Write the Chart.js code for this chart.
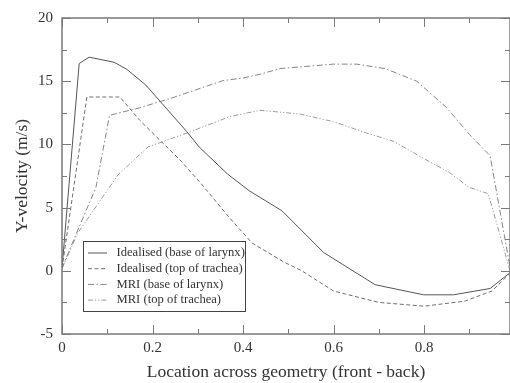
<!DOCTYPE html>
<html>
<head>
<meta charset="utf-8">
<script src="https://cdn.jsdelivr.net/npm/chart.js@4/dist/chart.umd.min.js"></script>
<style>
html,body{margin:0;padding:0;background:#fff;}
#wrap{width:510px;height:383px;position:relative;}
</style>
</head>
<body>
<div id="wrap"><canvas id="c" width="510" height="383"></canvas></div>
<script>
// ---- data ----
const seriesLabels = ["Idealised (base of larynx)", "Idealised (top of trachea)", "MRI (base of larynx)", "MRI (top of trachea)"];

const xIdealBase = [0, 0.038, 0.06, 0.115, 0.143, 0.185, 0.217, 0.276, 0.303, 0.366, 0.415, 0.486, 0.578, 0.692, 0.799, 0.865, 0.946, 0.99];
const yIdealBase = [0.2, 16.4, 16.9, 16.5, 15.95, 14.7, 13.4, 11.0, 9.8, 7.65, 6.3, 4.75, 1.45, -1.1, -1.9, -1.9, -1.4, -0.15];

const xIdealTop = [0, 0.055, 0.128, 0.172, 0.22, 0.26, 0.305, 0.37, 0.42, 0.49, 0.53, 0.6, 0.7, 0.8, 0.89, 0.95, 0.99];
const yIdealTop = [0.2, 13.75, 13.75, 11.9, 10.2, 8.8, 7.0, 4.2, 2.2, 0.7, 0.0, -1.6, -2.5, -2.8, -2.4, -1.6, -0.2];

const xMriBase = [0, 0.03, 0.075, 0.105, 0.172, 0.245, 0.356, 0.40, 0.4375, 0.482, 0.6, 0.651, 0.714, 0.784, 0.85, 0.90, 0.946, 0.99];
const yMriBase = [0.2, 2.8, 6.6, 12.3, 12.9, 13.7, 15.05, 15.25, 15.55, 16.0, 16.35, 16.35, 16.0, 15.0, 12.9, 10.8, 9.1, 0.3];

const xMriTop = [0, 0.035, 0.124, 0.19, 0.276, 0.371, 0.4375, 0.526, 0.6, 0.673, 0.732, 0.799, 0.857, 0.90, 0.942, 0.99];
const yMriTop = [0.2, 3.0, 7.6, 9.8, 10.9, 12.2, 12.7, 12.4, 11.8, 10.9, 10.25, 8.9, 7.75, 6.6, 6.1, 0.0];

const xMajorTicks = [0, 0.2, 0.4, 0.6, 0.8];
const xMinorTicks = [0.1, 0.3, 0.5, 0.7, 0.9];
const yMajorTicks = [-5, 0, 5, 10, 15, 20];
const yMinorTicks = [-2.5, 2.5, 7.5, 12.5, 17.5];

const xTitle = "Location across geometry (front - back)";
const yTitle = "Y-velocity (m/s)";

// ---- chart ----
const SERIF = "'Liberation Serif', 'DejaVu Serif', serif";
const toPts = (xs, ys) => xs.map((x, i) => ({x: x, y: ys[i]}));

const styles = [
  {color: '#555555', dash: []},
  {color: '#6e6e6e', dash: [4, 2.5]},
  {color: '#858585', dash: [6, 2.5, 1.5, 2.5]},
  {color: '#9a9a9a', dash: [5, 2, 1.2, 2, 1.2, 2]}
];
const seriesData = [
  toPts(xIdealBase, yIdealBase),
  toPts(xIdealTop, yIdealTop),
  toPts(xMriBase, yMriBase),
  toPts(xMriTop, yMriTop)
];

const datasets = seriesData.map((d, i) => ({
  label: seriesLabels[i],
  data: d,
  borderColor: styles[i].color,
  borderDash: styles[i].dash,
  borderWidth: 1,
  pointRadius: 0,
  fill: false,
  tension: 0
}));

const frameTicks = {
  id: 'frameTicks',
  afterDraw(chart) {
    const ctx = chart.ctx, a = chart.chartArea;
    const xs = chart.scales.x, ys = chart.scales.y;
    ctx.save();
    ctx.strokeStyle = '#7a7a7a';
    ctx.lineWidth = 1.5;
    ctx.setLineDash([]);
    ctx.strokeRect(a.left, a.top, a.right - a.left, a.bottom - a.top);
    ctx.lineWidth = 1;
    const tick = (x1, y1, x2, y2) => { ctx.beginPath(); ctx.moveTo(x1, y1); ctx.lineTo(x2, y2); ctx.stroke(); };
    xMajorTicks.forEach(v => { const p = Math.round(xs.getPixelForValue(v)) + 0.5; tick(p, a.bottom, p, a.bottom - 9); tick(p, a.top, p, a.top + 9); });
    xMinorTicks.forEach(v => { const p = Math.round(xs.getPixelForValue(v)) + 0.5; tick(p, a.bottom, p, a.bottom - 5); tick(p, a.top, p, a.top + 5); });
    yMajorTicks.forEach(v => { const p = Math.round(ys.getPixelForValue(v)) + 0.5; tick(a.left, p, a.left + 9, p); tick(a.right, p, a.right - 9, p); });
    yMinorTicks.forEach(v => { const p = Math.round(ys.getPixelForValue(v)) + 0.5; tick(a.left, p, a.left + 5, p); tick(a.right, p, a.right - 5, p); });

    // legend box
    const bx = 83.5, by = 241.5, bw = 162, bh = 70;
    ctx.fillStyle = '#ffffff';
    ctx.fillRect(bx, by, bw, bh);
    ctx.strokeStyle = '#444';
    ctx.lineWidth = 1;
    ctx.strokeRect(bx, by, bw, bh);
    ctx.font = "12.6px " + SERIF;
    ctx.textBaseline = 'middle';
    ctx.textAlign = 'left';
    chart.data.datasets.forEach((ds, i) => {
      const yy = by + 11.5 + i * 15.7;
      ctx.strokeStyle = ds.borderColor;
      ctx.setLineDash(ds.borderDash);
      ctx.beginPath(); ctx.moveTo(88, yy); ctx.lineTo(107, yy); ctx.stroke();
      ctx.setLineDash([]);
      ctx.fillStyle = '#333';
      ctx.fillText(ds.label, 116.5, yy);
    });
    ctx.restore();
  }
};

new Chart(document.getElementById('c'), {
  type: 'line',
  data: {datasets: datasets},
  options: {
    responsive: false,
    animation: false,
    layout: {padding: {top: 17, right: 0, left: 0, bottom: 0}},
    plugins: {legend: {display: false}, tooltip: {enabled: false}},
    scales: {
      x: {
        type: 'linear', min: 0, max: 0.99,
        grid: {display: false, drawTicks: false},
        border: {display: false},
        afterBuildTicks: s => { s.ticks = xMajorTicks.map(v => ({value: v})); },
        afterFit: s => { s.height = 49; },
        ticks: {font: {family: SERIF, size: 15}, color: '#333', padding: 5, maxRotation: 0,
                callback: v => String(v)},
        title: {display: true, text: xTitle, font: {family: SERIF, size: 17.5}, color: '#333', padding: {top: 4, bottom: 0}}
      },
      y: {
        type: 'linear', min: -5, max: 20,
        grid: {display: false, drawTicks: false},
        border: {display: false},
        afterBuildTicks: s => { s.ticks = yMajorTicks.map(v => ({value: v})); },
        afterFit: s => { s.width = 62; },
        ticks: {font: {family: SERIF, size: 15}, color: '#333', padding: 9,
                callback: v => String(v)},
        title: {display: true, text: yTitle, font: {family: SERIF, size: 17.5}, color: '#333', padding: {top: 12, bottom: 0}}
      }
    }
  },
  plugins: [frameTicks]
});
</script>
</body>
</html>
